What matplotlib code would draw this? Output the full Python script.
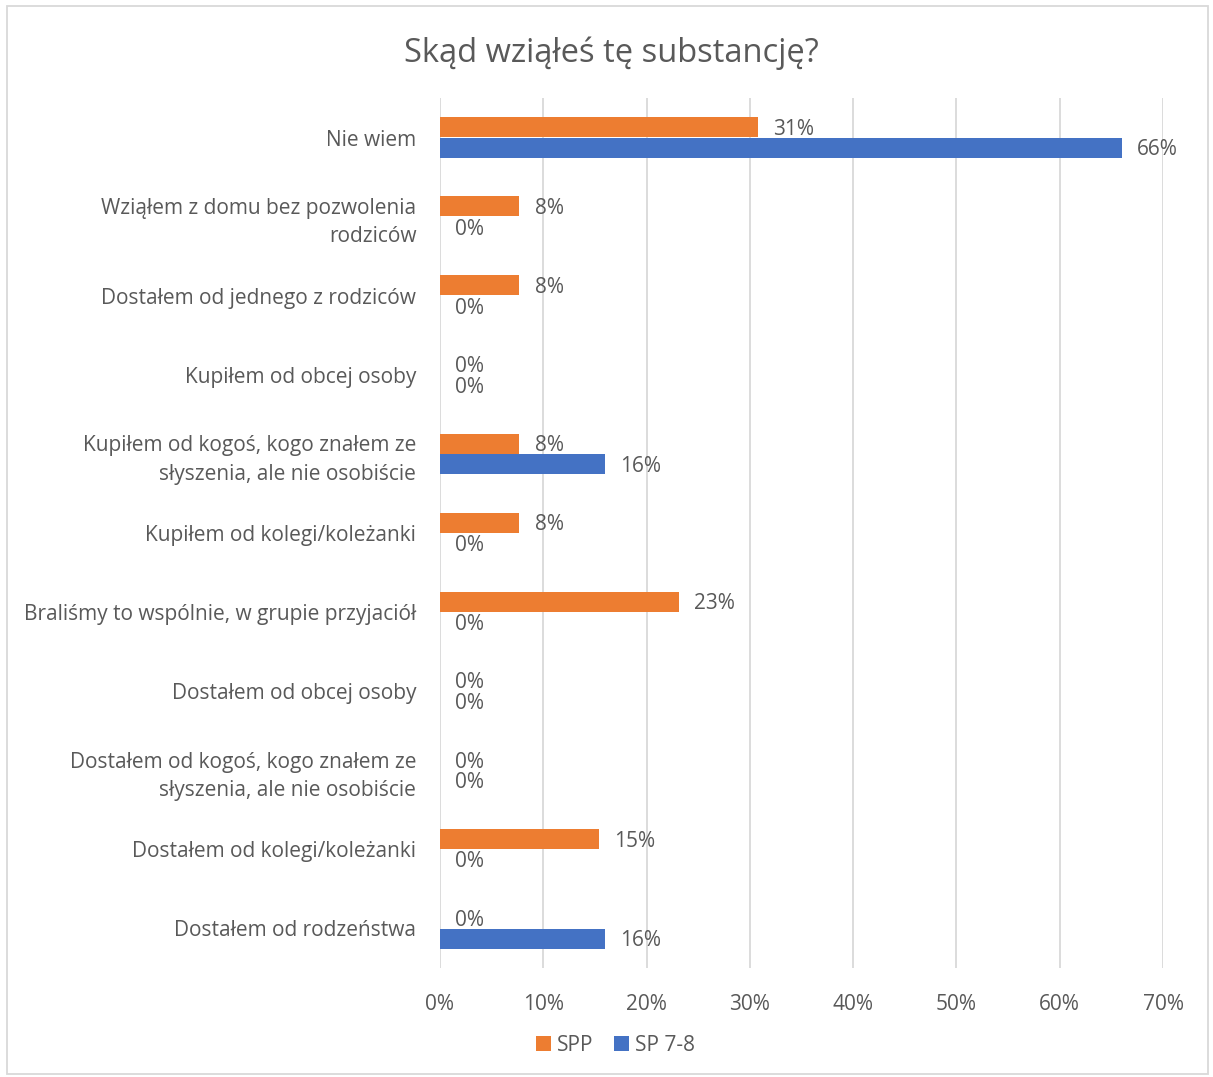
import matplotlib
matplotlib.use("Agg")
from matplotlib import pyplot as plt
from matplotlib.patches import Rectangle
import numpy as np

plt.rcParams["font.family"] = ["Open Sans", "DejaVu Sans"]

categories = [
    "Nie wiem",
    "Wziąłem z domu bez pozwolenia\nrodziców",
    "Dostałem od jednego z rodziców",
    "Kupiłem od obcej osoby",
    "Kupiłem od kogoś, kogo znałem ze\nsłyszenia, ale nie osobiście",
    "Kupiłem od kolegi/koleżanki",
    "Braliśmy to wspólnie, w grupie przyjaciół",
    "Dostałem od obcej osoby",
    "Dostałem od kogoś, kogo znałem ze\nsłyszenia, ale nie osobiście",
    "Dostałem od kolegi/koleżanki",
    "Dostałem od rodzeństwa",
]
spp = [30.8, 7.7, 7.7, 0, 7.7, 7.7, 23.1, 0, 0, 15.4, 0]
sp78 = [66, 0, 0, 0, 16, 0, 0, 0, 0, 0, 16]
series_names = ["SPP", "SP 7-8"]
colors = ["#ED7D31", "#4472C4"]
text_color = "#595959"
fs = 15

fig = plt.figure(figsize=(12.13, 10.77), dpi=100)
ax = fig.add_axes([0.3627, 0.1012, 0.5961, 0.8078])

y = np.arange(len(categories))
h = 0.26
for vals, off, col, name in [(spp, -h / 2, colors[0], series_names[0]),
                             (sp78, h / 2, colors[1], series_names[1])]:
    ax.barh(y + off, vals, height=h * 0.97, color=col, linewidth=0,
            label=name, zorder=3)
    for yy, v in zip(y + off, vals):
        ax.annotate(f"{round(v):.0f}%", (v, yy), xytext=(11, -1.5),
                    textcoords="offset points", va="center", ha="left",
                    fontsize=fs, color=text_color, zorder=4)

ax.set_ylim(len(categories) - 0.5, -0.5)
ax.set_xlim(0, 70)
ax.set_xticks(np.arange(0, 71, 10))
ax.set_xticklabels([f"{t}%" for t in range(0, 71, 10)])
ax.set_yticks(y)
ax.set_yticklabels(categories, linespacing=1.45)
ax.tick_params(axis="both", length=0, colors=text_color, labelsize=fs)
ax.tick_params(axis="y", pad=17)
ax.tick_params(axis="x", pad=19)
ax.grid(axis="x", color="#D9D9D9", linewidth=1.3, zorder=0)
for s in ax.spines.values():
    s.set_visible(False)

fig.text(0.504, 0.951, "Skąd wziąłeś tę substancję?", ha="center", va="center",
         fontsize=23.5, color=text_color)

ax.legend(loc="center", bbox_to_anchor=(0.5075, 0.0295),
          bbox_transform=fig.transFigure, ncol=2, frameon=False,
          fontsize=fs, labelcolor=text_color, handlelength=0.7,
          handleheight=0.7, handletextpad=0.3, columnspacing=1.0)

fig.patches.append(Rectangle((0.006, 0.003), 0.99, 0.991, transform=fig.transFigure,
                             fill=False, edgecolor="#D9D9D9", linewidth=1.3))

fig.savefig("out.png", dpi=100)
